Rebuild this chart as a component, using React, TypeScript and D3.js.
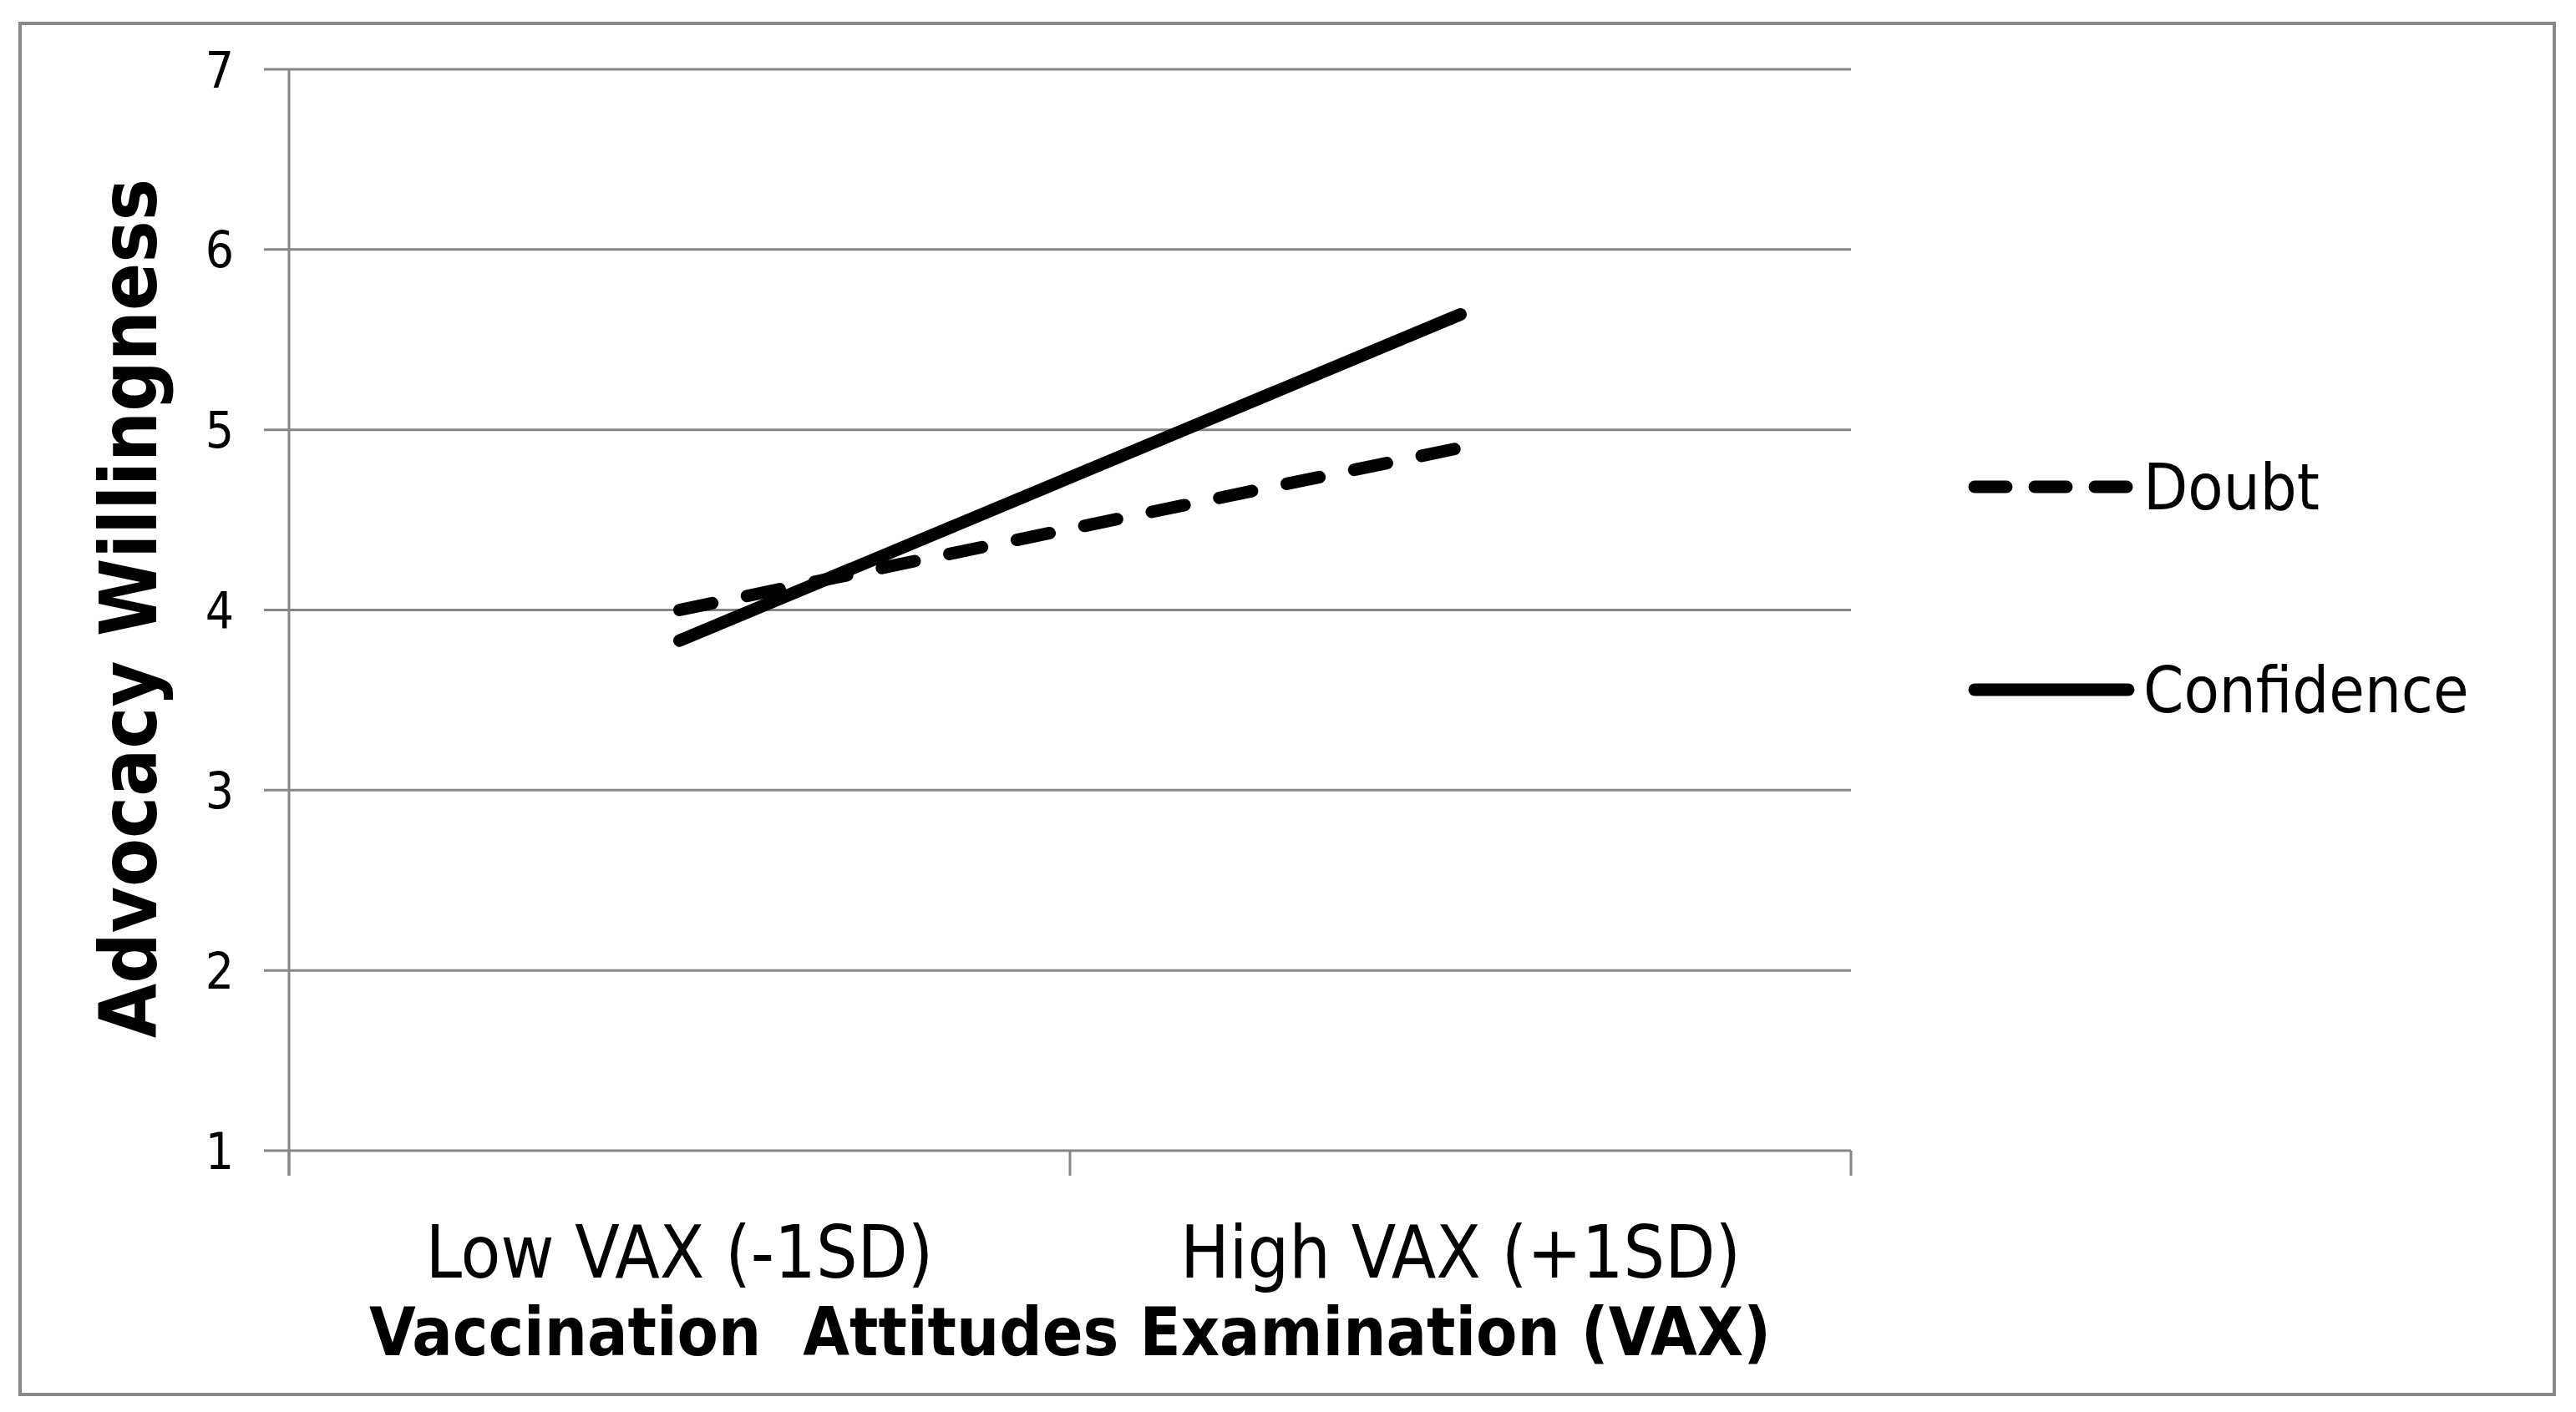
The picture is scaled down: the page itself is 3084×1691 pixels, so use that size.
import React from "react";
import * as d3 from "d3";

const categories = ["Low VAX (-1SD)", "High VAX (+1SD)"];
const doubtValues = [4.0, 4.9];
const confidenceValues = [3.83, 5.64];
const yTicks = [1, 2, 3, 4, 5, 6, 7];
const seriesNames = ["Doubt", "Confidence"];
const xTitle = "Vaccination  Attitudes Examination (VAX)";
const yTitle = "Advocacy Willingness";

const W = 3084;
const H = 1691;
const FONT = "'Liberation Sans Narrow', 'DejaVu Sans Condensed', 'Open Sans', sans-serif";
const GRID = "#868686";

export default function App() {
  const left = 346, right = 2216, top = 83, bottom = 1378;
  const band = d3.scaleBand<string>().domain(categories).range([left, right]).padding(0);
  const x = (c: string) => (band(c) as number) + band.bandwidth() / 2;
  const y = d3.scaleLinear().domain([1, 7]).range([bottom, top]);
  const line = d3
    .line<number>()
    .x((_, i) => x(categories[i]))
    .y((v) => y(v));

  const xTickPos = [...categories.map((c) => band(c) as number), right];
  const sw = 15;
  const dash = "40 42.5";

  return (
    <svg width={W} height={H} style={{ position: "absolute", left: 0, top: 0, background: "#fff" }}>
      <rect x={0} y={0} width={W} height={H} fill="#fff" />
      <rect x={24} y={28} width={3034} height={1642} fill="none" stroke="#898989" strokeWidth={4} />
      {yTicks.map((t) => (
        <g key={t}>
          <line x1={left - 30} x2={right} y1={y(t)} y2={y(t)} stroke={GRID} strokeWidth={3} />
          <text
            x={280}
            y={y(t)}
            dy="0.36em"
            textAnchor="end"
            fontFamily={FONT}
            fontSize={60}
            fill="#000"
          >
            {t}
          </text>
        </g>
      ))}
      <line x1={left} x2={left} y1={top} y2={bottom + 30} stroke={GRID} strokeWidth={3} />
      {xTickPos.map((p, i) => (
        <line key={i} x1={p} x2={p} y1={bottom} y2={bottom + 30} stroke={GRID} strokeWidth={3} />
      ))}
      {categories.map((c) => (
        <text key={c} x={x(c)} y={1530} textAnchor="middle" fontFamily={FONT} fontSize={87} fill="#000">
          {c}
        </text>
      ))}
      <text
        x={(left + right) / 2}
        y={1623}
        textAnchor="middle"
        fontFamily={FONT}
        fontSize={80}
        fontWeight="bold"
        fill="#000"
        style={{ whiteSpace: "pre" }}
      >
        {xTitle}
      </text>
      <text
        transform={`translate(154, ${(top + bottom) / 2 - 2}) rotate(-90)`}
        dy="0.35em"
        textAnchor="middle"
        fontFamily={FONT}
        fontSize={94}
        fontWeight="bold"
        fill="#000"
      >
        {yTitle}
      </text>
      <path d={line(doubtValues) || ""} fill="none" stroke="#000" strokeWidth={sw} strokeDasharray={dash} strokeLinecap="round" />
      <path d={line(confidenceValues) || ""} fill="none" stroke="#000" strokeWidth={sw} strokeLinecap="round" />
      {seriesNames.map((s, i) => {
        const ly = i === 0 ? 583 : 826;
        return (
          <g key={s}>
            <line
              x1={2364}
              x2={2548}
              y1={ly}
              y2={ly}
              stroke="#000"
              strokeWidth={sw}
              strokeLinecap="round"
              strokeDasharray={i === 0 ? "38 34" : undefined}
            />
            <text x={2566} y={ly} dy="0.35em" fontFamily={FONT} fontSize={77} fill="#000">
              {s}
            </text>
          </g>
        );
      })}
    </svg>
  );
}
